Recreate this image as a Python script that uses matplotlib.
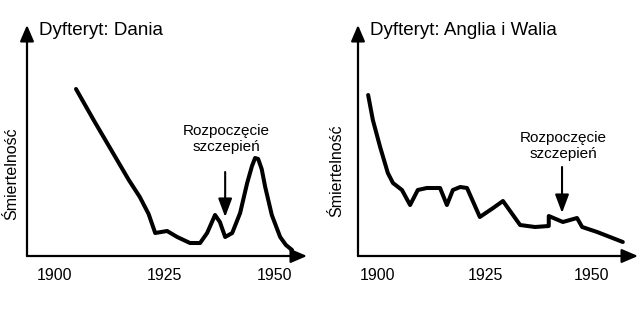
import matplotlib
matplotlib.use('Agg')
from matplotlib import pyplot as plt

plt.rcParams['font.family'] = ['Liberation Sans', 'DejaVu Sans']

# Dania: rok i umowna smiertelnosc
dk_years = [1905.0, 1909.0, 1913.4, 1917.0, 1919.5, 1921.5, 1923.0, 1925.7, 1928.0,
            1930.9, 1933.2, 1934.8, 1936.6, 1937.7, 1938.9, 1940.5, 1942.3, 1943.9,
            1945.0, 1945.7, 1946.4, 1947.2, 1948.0, 1949.5, 1951.4, 1952.7, 1954.1]
dk_mort = [167, 136, 103, 76, 59, 42, 23, 25, 19, 13, 13, 23, 41, 34, 19, 23, 43, 73,
           90, 98, 97, 87, 69, 41, 19, 11, 6]

# Anglia i Walia
ew_years = [1897.7, 1898.8, 1900.5, 1902.3, 1903.5, 1905.6, 1907.5, 1909.3, 1911.4,
            1914.5, 1916.1, 1917.5, 1919.2, 1920.8, 1923.8, 1926.9, 1929.2, 1933.2,
            1936.7, 1939.9, 1939.9, 1943.2, 1946.5, 1947.7, 1951.2, 1957.2]
ew_mort = [161, 136, 109, 83, 73, 66, 51, 66, 68, 68, 51, 66, 69, 68, 39, 48, 55, 31,
           29, 30, 40, 34, 38, 29, 24, 14]

xticks = [1900, 1925, 1950]

panels = [
    dict(title='Dyfteryt: Dania', x=dk_years, y=dk_mort, left=27, xlim=(1893.86, 1957.5),
         vacc_year=1938.9, arrow=(84, 39), text_y=117, ylab=(-0.054, 0.355)),
    dict(title='Dyfteryt: Anglia i Walia', x=ew_years, y=ew_mort, left=358,
         xlim=(1895.33, 1960.75), vacc_year=1943.0, arrow=(89, 43), text_y=110,
         ylab=(-0.075, 0.368)),
]

W, H = 640, 323
fig = plt.figure(figsize=(W / 100, H / 100), dpi=100)

for p in panels:
    ax = fig.add_axes([p['left'] / W, (H - 256) / H, 280 / W, 231 / H])
    ax.set_xlim(*p['xlim'])
    ax.set_ylim(0, 231)
    for s in ax.spines.values():
        s.set_visible(False)
    ax.set_yticks([])
    ax.set_xticks(xticks)
    ax.set_xticklabels([str(t) for t in xticks], fontsize=11.5)
    ax.tick_params(axis='x', length=0, pad=9)

    # osie ze strzalkami
    ap = dict(arrowstyle='-|>,head_length=0.7,head_width=0.3', lw=1.6, color='black',
              shrinkA=0, shrinkB=0, mutation_scale=14)
    ax.annotate('', xy=(1, 0), xytext=(0, 0), xycoords='axes fraction',
                textcoords='axes fraction', arrowprops=ap, annotation_clip=False)
    ax.annotate('', xy=(0, 1), xytext=(0, 0), xycoords='axes fraction',
                textcoords='axes fraction', arrowprops=ap, annotation_clip=False)

    ax.plot(p['x'], p['y'], color='black', lw=2.9, solid_joinstyle='round',
            solid_capstyle='round', clip_on=False)

    ax.text(0.043, 0.978, p['title'], transform=ax.transAxes, fontsize=13.5,
            ha='left', va='center')
    ax.text(p['ylab'][0], p['ylab'][1], 'Śmiertelność', transform=ax.transAxes,
            rotation=90, fontsize=11.5, ha='center', va='center')

    # poczatek szczepien
    top, tip = p['arrow']
    ax.annotate('', xy=(p['vacc_year'], tip), xytext=(p['vacc_year'], top),
                arrowprops=dict(arrowstyle='-|>,head_length=0.8,head_width=0.3',
                                lw=1.5, color='black', shrinkA=0, shrinkB=0,
                                mutation_scale=14))
    ax.text(p['vacc_year'] + 0.3, p['text_y'], 'Rozpoczęcie\nszczepień', fontsize=11,
            ha='center', va='center', linespacing=1.15)

fig.savefig('out.png', dpi=100, facecolor='white')
